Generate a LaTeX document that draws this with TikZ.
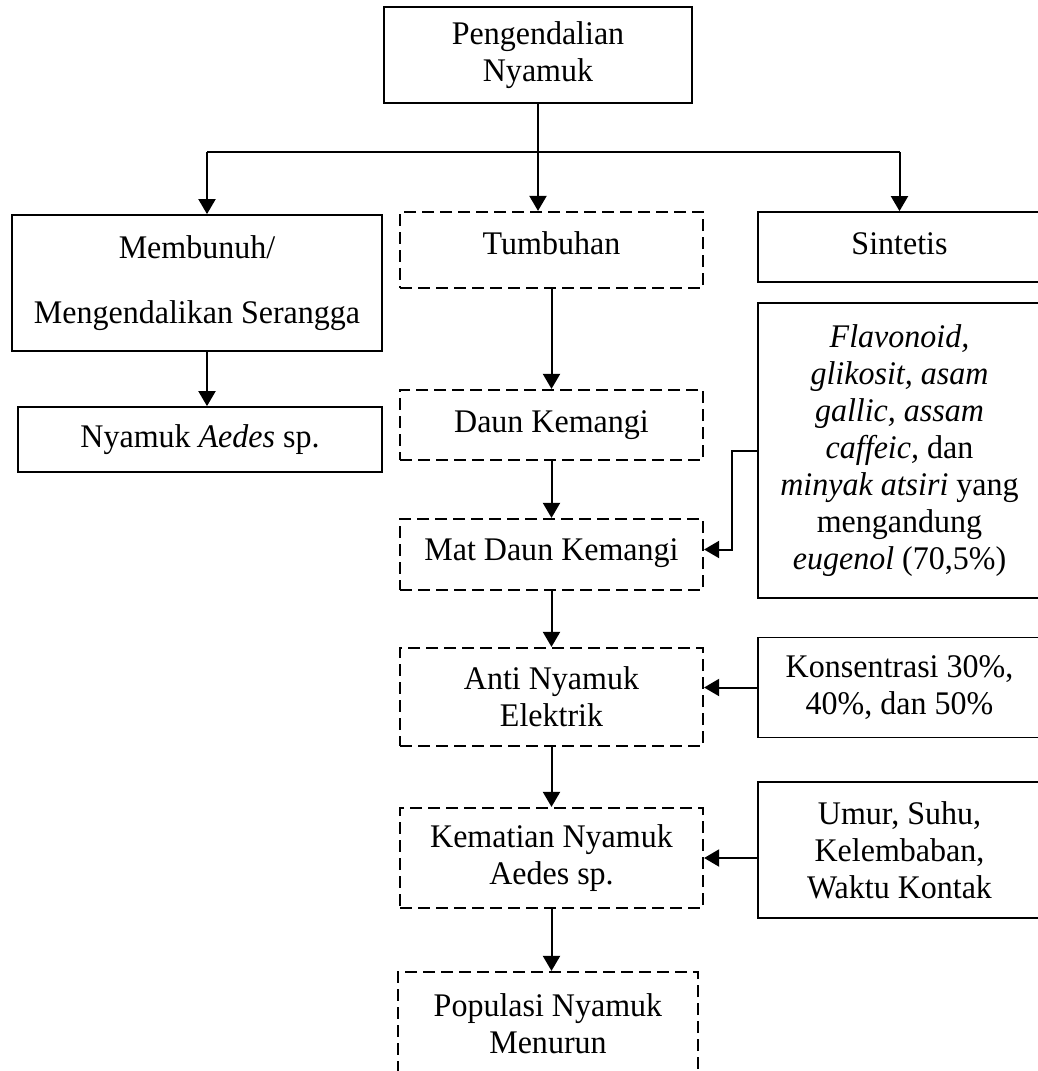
\documentclass[tikz,border=0pt]{standalone}
\usepackage{fontspec}
\setmainfont{Liberation Serif}[FakeStretch = 0.97]
\usetikzlibrary{arrows.meta}
\begin{document}
\begin{tikzpicture}[x = 0.5pt, y = -0.5pt,
   box/.style = {draw, line width = 0.9pt, inner sep = 0pt, align = center,
      font = \fontsize{16.5}{18.5}\selectfont},
   dbox/.style = {box, line width = 1.1pt, dash pattern = on 6pt off 3pt},
   arr/.style = {line width = 1pt, -{Triangle[width = 8.5pt, length = 7.5pt]}}]
   \useasboundingbox (0, 0) rectangle (1038, 1071);
   \clip (0, 0) rectangle (1038, 1071);
   \node[box, minimum width = 154pt, minimum height = 48pt] (ctrl) at (538, 55) {Pengendalian\\Nyamuk};
   \node[box, minimum width = 185pt, minimum height = 68pt, font = \fontsize{16.5}{32.5}\selectfont] (kill) at (197, 283) {Membunuh/\\Mengendalikan Serangga};
   \node[box, minimum width = 182pt, minimum height = 32.5pt] (aedes) at (200, 439.5) {Nyamuk \textit{Aedes} sp.};
   \node[dbox, minimum width = 151.5pt, minimum height = 38pt, text height = 12pt, text depth = 8pt] (tumb) at (551.5, 250) {Tumbuhan};
   \node[dbox, minimum width = 151.5pt, minimum height = 35pt, text height = 12pt, text depth = 5pt] (daun) at (551.5, 425) {Daun Kemangi};
   \node[dbox, minimum width = 151.5pt, minimum height = 35.5pt, text height = 12pt, text depth = 6pt] (mat) at (551.5, 554.5) {Mat Daun Kemangi};
   \node[dbox, minimum width = 151.5pt, minimum height = 49pt] (anti) at (551.5, 697) {Anti Nyamuk\\Elektrik};
   \node[dbox, minimum width = 151.5pt, minimum height = 50pt] (kemat) at (551.5, 858) {Kematian Nyamuk\\Aedes sp.};
   \node[dbox, minimum width = 150pt, minimum height = 51.5pt] (pop) at (548, 1023.5) {Populasi Nyamuk\\Menurun};
   \node[box, minimum width = 141.5pt, minimum height = 35pt, text height = 12pt, text depth = 5pt] (sint) at (899.5, 247) {Sintetis};
   \node[box, minimum width = 141.5pt, minimum height = 147.5pt] (flav) at (899.5, 450.5) {\textit{Flavonoid,}\\\textit{glikosit, asam}\\\textit{gallic, assam}\\\textit{caffeic,} dan\\\textit{minyak atsiri} yang\\mengandung\\\textit{eugenol} (70,5\%)};
   \node[box, minimum width = 141.5pt, minimum height = 50pt] (kons) at (899.5, 687.5) {Konsentrasi 30\%,\\40\%, dan 50\%};
   \node[box, minimum width = 141.5pt, minimum height = 68pt] (umur) at (899.5, 850) {Umur, Suhu,\\Kelembaban,\\Waktu Kontak};
   \coordinate (jl) at (207, 152);
   \coordinate (jr) at (899.5, 152);
   \draw[line width = 0.9pt] (jl) -- (jr);
   \draw[arr] (ctrl.south) -- (ctrl.south |- tumb.north);
   \draw[arr] (jl) -- (jl |- kill.north);
   \draw[arr] (jr) -- (sint.north);
   \draw[arr] (jl |- kill.south) -- (jl |- aedes.north);
   \draw[arr] (tumb.south) -- (daun.north);
   \draw[arr] (daun.south) -- (mat.north);
   \draw[arr] (mat.south) -- (anti.north);
   \draw[arr] (anti.south) -- (kemat.north);
   \draw[arr] (kemat.south) -- (kemat.south |- pop.north);
   \draw[arr] (flav.west) -- ++(-25, 0) |- ([yshift = 2.5pt] mat.east);
   \draw[arr] (kons.west) -- (kons.west -| anti.east);
   \draw[arr] (kemat.east -| umur.west) -- (kemat.east);
\end{tikzpicture}
\end{document}
